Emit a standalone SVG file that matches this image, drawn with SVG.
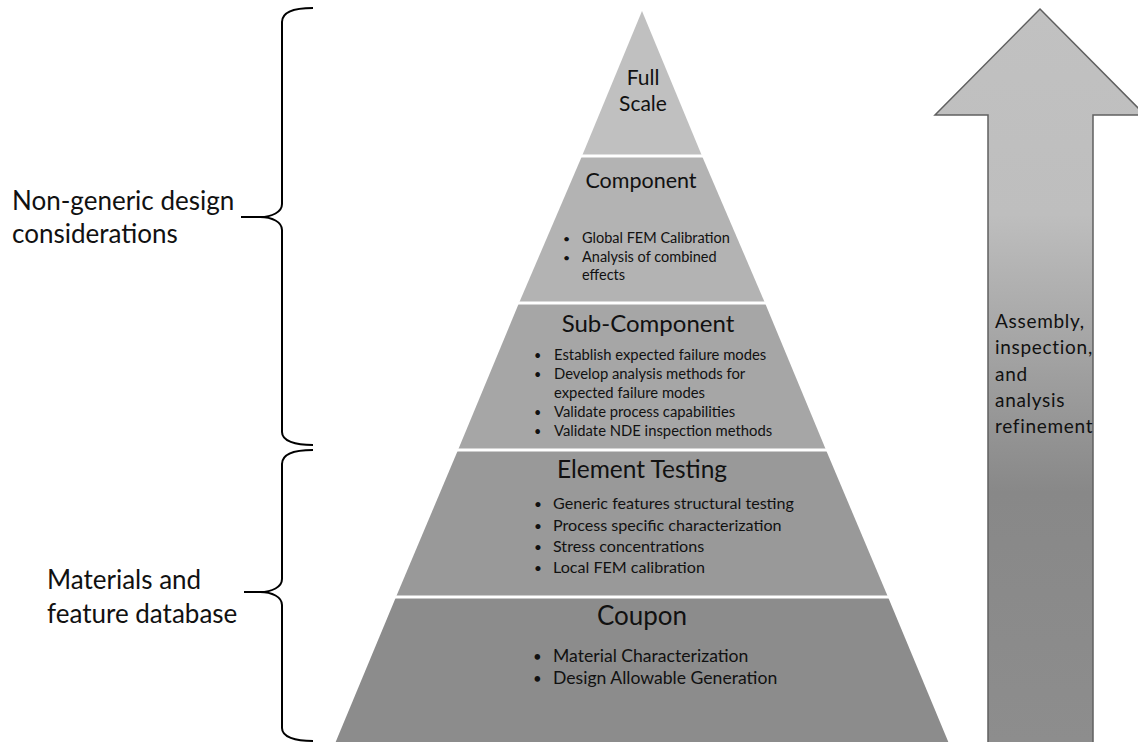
<svg xmlns="http://www.w3.org/2000/svg" width="1138" height="742" viewBox="0 0 1138 742">
<defs>
<linearGradient id="arrowGrad" x1="0" y1="9" x2="0" y2="742" gradientUnits="userSpaceOnUse">
<stop offset="0" stop-color="#c1c1c1"/>
<stop offset="0.28" stop-color="#bebebe"/>
<stop offset="0.66" stop-color="#888888"/>
<stop offset="1" stop-color="#8d8d8d"/>
</linearGradient>
<style>
text{font-family:Lato,"Liberation Sans",sans-serif;fill:#111111}
.title{text-anchor:middle}
.sep{stroke:#ffffff;stroke-width:3}
.brace{fill:none;stroke:#000000;stroke-width:2}
.lbl{font-size:26px}
.arr{font-size:19px;letter-spacing:0.7px}
.bul{font-size:0.85em}
</style>
</defs>
<rect width="1138" height="742" fill="#ffffff"/>

<g id="level-full-scale">
<polygon points="642,11 702,156 582,156" fill="#c0c0c0"/>
<text class="title" x="643" y="85" font-size="21">Full</text>
<text class="title" x="643" y="111" font-size="21">Scale</text>
</g>

<g id="level-component">
<polygon points="582,156 702,156 765,303 519,303" fill="#b3b3b3"/>
<text class="title" x="641" y="188" font-size="21.5">Component</text>
<g font-size="14.5">
<text class="bul" x="563" y="243">•</text><text x="582" y="243">Global FEM Calibration</text>
<text class="bul" x="563" y="262">•</text><text x="582" y="262">Analysis of combined</text>
<text x="582" y="280">effects</text>
</g>
</g>

<g id="level-sub-component">
<polygon points="519,303 765,303 826,450 458,450" fill="#a6a6a6"/>
<text class="title" x="648" y="332" font-size="24">Sub-Component</text>
<g font-size="14.8">
<text class="bul" x="534" y="360">•</text><text x="554" y="360">Establish expected failure modes</text>
<text class="bul" x="534" y="379">•</text><text x="554" y="379">Develop analysis methods for</text>
<text x="554" y="398">expected failure modes</text>
<text class="bul" x="534" y="417">•</text><text x="554" y="417">Validate process capabilities</text>
<text class="bul" x="534" y="436">•</text><text x="554" y="436">Validate NDE inspection methods</text>
</g>
</g>

<g id="level-element-testing">
<polygon points="458,450 826,450 888,597 396,597" fill="#999999"/>
<text class="title" x="642" y="478" font-size="24.5">Element Testing</text>
<g font-size="16.1">
<text class="bul" x="534" y="509">•</text><text x="553" y="509">Generic features structural testing</text>
<text class="bul" x="534" y="531">•</text><text x="553" y="531">Process specific characterization</text>
<text class="bul" x="534" y="552">•</text><text x="553" y="552">Stress concentrations</text>
<text class="bul" x="534" y="573">•</text><text x="553" y="573">Local FEM calibration</text>
</g>
</g>

<g id="level-coupon">
<polygon points="396,597 888,597 950,746 334,746" fill="#8c8c8c"/>
<text class="title" x="642" y="625" font-size="26">Coupon</text>
<g font-size="17.6">
<text class="bul" x="533" y="662">•</text><text x="553" y="662">Material Characterization</text>
<text class="bul" x="533" y="684">•</text><text x="553" y="684">Design Allowable Generation</text>
</g>
</g>

<g id="separators">
<line class="sep" x1="570" y1="156" x2="714" y2="156"/>
<line class="sep" x1="505" y1="303" x2="779" y2="303"/>
<line class="sep" x1="445" y1="450" x2="839" y2="450"/>
<line class="sep" x1="383" y1="597" x2="901" y2="597"/>
</g>

<g id="arrow-refinement">
<polygon points="1040,9 1145,115 1093,115 1093,748 988,748 988,115 935,115" fill="url(#arrowGrad)" stroke="#606060" stroke-width="1.5"/>
<text class="arr" x="995" y="328">Assembly,</text>
<text class="arr" x="995" y="354">inspection,</text>
<text class="arr" x="995" y="381">and</text>
<text class="arr" x="995" y="407">analysis</text>
<text class="arr" x="995" y="433">refinement</text>
</g>

<g id="connectors">
<path id="brace-top" class="brace" d="M313,8 C295,8 282,11 282,22 L282,204 C282,212 272,217 260,217 L241,217 L260,217 C272,217 282,222 282,230 L282,432 C282,441 295,445 313,445"/>
<path id="brace-bottom" class="brace" d="M313,450 C295,450 282,454 282,464 L282,579 C282,587 272,592 260,592 L244,592 L260,592 C272,592 282,597 282,605 L282,728 C282,737 295,741 313,741"/>
</g>

<g id="label-non-generic">
<text class="lbl" x="12" y="210">Non-generic design</text>
<text class="lbl" x="12" y="243">considerations</text>
</g>

<g id="label-materials">
<text class="lbl" x="47" y="589">Materials and</text>
<text class="lbl" x="47" y="623">feature database</text>
</g>
</svg>
